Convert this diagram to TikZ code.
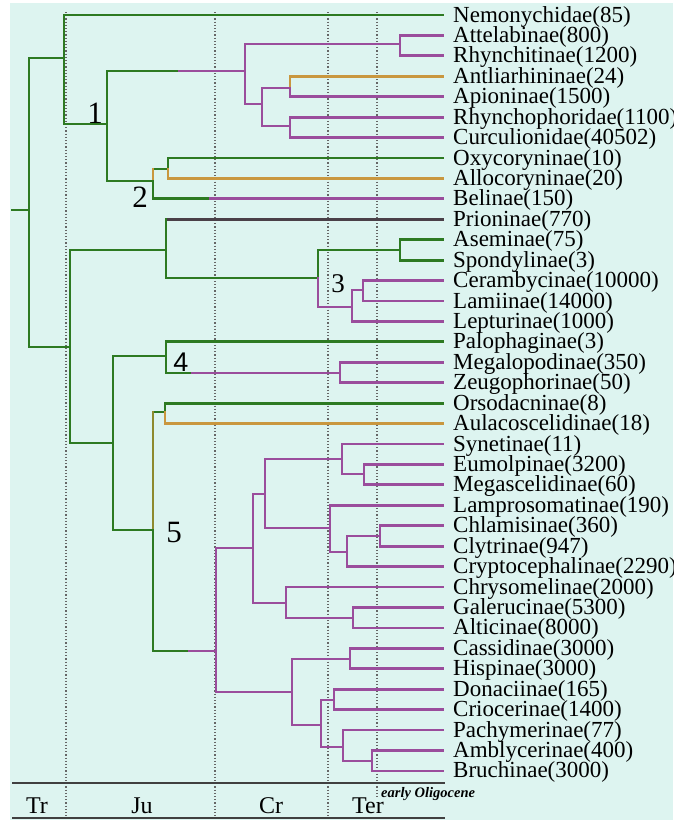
\documentclass[tikz,border=0pt]{standalone}
\usepackage{fontspec}
\setmainfont{Liberation Serif}
\newfontfamily\hvfont{Liberation Sans}
\definecolor{bgc}{HTML}{DDF4F0}
\definecolor{grn}{HTML}{2D7A22}
\definecolor{pur}{HTML}{9A4D9C}
\definecolor{org}{HTML}{C9973F}
\definecolor{olv}{HTML}{8E8A2E}
\definecolor{dkc}{HTML}{4A4048}
\definecolor{gridc}{HTML}{666666}
\definecolor{axc}{HTML}{404040}
\tikzset{
  br/.style={line width=2.8pt, line cap=rect, line join=miter},
  grnl/.style={br, draw=grn},
  purl/.style={br, draw=pur},
  orgl/.style={br, draw=org},
  olvl/.style={br, draw=olv},
  dkl/.style={br, draw=dkc},
  lbl/.style={anchor=base west, inner sep=0pt, text height=13pt, text depth=3pt,
              font=\fontsize{23}{22}\selectfont},
  num/.style={inner sep=0pt, font=\fontsize{31}{31}\selectfont},
  era/.style={anchor=base, inner sep=0pt, font=\fontsize{24}{24}\selectfont},
  gridl/.style={draw=gridc, line width=1.3pt, dash pattern=on 1.2pt off 2pt},
  axl/.style={draw=axc, line width=1.6pt},
}
\begin{document}
\begin{tikzpicture}[x=1pt,y=-1pt]
\useasboundingbox (0,0) rectangle (673,820);
\fill[white] (0,0) rectangle (673,820);
\fill[bgc] (10,3) rectangle (673,820);

% time grid
\coordinate (g1t) at (66,12);  \coordinate (g1b) at (66,818);
\coordinate (g2t) at (215,12); \coordinate (g2b) at (215,818);
\coordinate (g3t) at (328,12); \coordinate (g3b) at (328,818);
\coordinate (g4t) at (377,12); \coordinate (g4b) at (377,797);
\draw[gridl] (g1t) -- (g1b);
\draw[gridl] (g2t) -- (g2b);
\draw[gridl] (g3t) -- (g3b);
\draw[gridl] (g4t) -- (g4b);

% leaves
\foreach \i in {1,...,38} {
  \coordinate (L\i) at (443,{15+(\i-1)*20.43});
}

% ---------- upper clade ----------
\coordinate (R0) at (12,210);
\coordinate (R) at (29,210);
\coordinate (A) at (64,58);
\coordinate (B) at (70,347);
\draw[grnl] (R0) -- (R);
\draw[grnl] (A) -| (R);
\draw[grnl] (B) -| (R);

\coordinate (N1) at (107,124);
\draw[grnl] (L1) -| (A);
\draw[grnl] (N1) -| (A);

\coordinate (N1a) at (245,71);
\coordinate (N2) at (153,181);
\coordinate (m1) at (177,71);
\draw[purl] (N1a) -- (m1);
\draw[grnl] (m1) -| (N1);
\draw[grnl] (N2) -| (N1);

\coordinate (Att) at (400,44);
\coordinate (Ap) at (262,104);
\draw[purl] (Att) -| (N1a);
\draw[purl] (Ap) -| (N1a);
\draw[purl] (L2) -| (Att);
\draw[purl] (L3) -| (Att);

\coordinate (Ap1) at (290,88);
\coordinate (Ap2) at (290,126);
\draw[purl] (Ap1) -| (Ap);
\draw[purl] (Ap2) -| (Ap);
\draw[orgl] (L4) -| (Ap1);
\draw[purl] (L5) -| (Ap1);
\draw[purl] (L6) -| (Ap2);
\draw[purl] (L7) -| (Ap2);

\coordinate (Ox) at (168,169);
\draw[grnl] (Ox) -- (N2 |- Ox);
\draw[orgl] (N2 |- Ox) -- (N2);
\draw[grnl] (L8) -| (Ox);
\draw[orgl] (L9) -| (Ox);
\path (L10) ++(-235,0) coordinate (m2);
\draw[purl] (L10) -- (m2);
\draw[grnl] (m2) -| (N2);

% ---------- lower clade ----------
\coordinate (C) at (166,250);
\coordinate (D) at (113,443);
\draw[grnl] (C) -| (B);
\draw[grnl] (D) -| (B);

\coordinate (C3) at (318,278);
\draw[dkl] (L11) -- (C |- L11);
\draw[grnl] (C |- L11) -- (C);
\draw[grnl] (C3) -| (C);

\coordinate (As) at (400,250);
\coordinate (Ce) at (352,307);
\draw[grnl] (As) -| (C3);
\draw[purl] (Ce) -| (C3);
\draw[grnl] (L12) -| (As);
\draw[grnl] (L13) -| (As);

\coordinate (Ce1) at (363,290);
\draw[purl] (Ce1) -| (Ce);
\draw[purl] (L16) -| (Ce);
\draw[purl] (L14) -| (Ce1);
\draw[purl] (L15) -| (Ce1);

\coordinate (E4) at (166,356);
\coordinate (E5) at (153,530);
\draw[grnl] (E4) -| (D);
\draw[grnl] (E5) -| (D);

\coordinate (Mz) at (340,373);
\draw[grnl] (L17) -| (E4);
\path (Mz) ++(-150,0) coordinate (m3);
\draw[purl] (Mz) -- (m3);
\draw[grnl] (m3) -| (E4);
\draw[purl] (L18) -| (Mz);
\draw[purl] (L19) -| (Mz);

\coordinate (Or) at (165,412);
\coordinate (F) at (216,651);
\draw[grnl] (Or) -- (E5 |- Or);
\draw[olvl] (E5 |- Or) -- (E5);
\draw[grnl] (L20) -| (Or);
\draw[orgl] (L21) -| (Or);
\path (F) ++(-29,0) coordinate (m4);
\draw[purl] (F) -- (m4);
\draw[grnl] (m4) -| (E5);

\coordinate (G) at (253,548);
\coordinate (H) at (292,692);
\draw[purl] (G) -| (F);
\draw[purl] (H) -| (F);

\coordinate (G1) at (265,494);
\coordinate (G2) at (286,603);
\draw[purl] (G1) -| (G);
\draw[purl] (G2) -| (G);

\coordinate (Sy) at (342,459);
\coordinate (La) at (330,528);
\draw[purl] (Sy) -| (G1);
\draw[purl] (La) -| (G1);

\coordinate (Eu) at (364,474);
\draw[purl] (L22) -| (Sy);
\draw[purl] (Eu) -| (Sy);
\draw[purl] (L23) -| (Eu);
\draw[purl] (L24) -| (Eu);

\coordinate (Cl) at (347,552);
\draw[purl] (L25) -| (La);
\draw[purl] (Cl) -| (La);
\coordinate (Ch) at (380,536);
\draw[purl] (Ch) -| (Cl);
\draw[purl] (L28) -| (Cl);
\draw[purl] (L26) -| (Ch);
\draw[purl] (L27) -| (Ch);

\coordinate (Ga) at (353,618);
\draw[purl] (L29) -| (G2);
\draw[purl] (Ga) -| (G2);
\draw[purl] (L30) -| (Ga);
\draw[purl] (L31) -| (Ga);

\coordinate (Ca) at (350,659);
\coordinate (Do) at (321,725);
\draw[purl] (Ca) -| (H);
\draw[purl] (Do) -| (H);
\draw[purl] (L32) -| (Ca);
\draw[purl] (L33) -| (Ca);

\coordinate (Dc) at (334,700);
\coordinate (Pa) at (343,747);
\draw[purl] (Dc) -| (Do);
\draw[purl] (Pa) -| (Do);
\draw[purl] (L34) -| (Dc);
\draw[purl] (L35) -| (Dc);

\coordinate (Am) at (372,761);
\draw[purl] (L36) -| (Pa);
\draw[purl] (Am) -| (Pa);
\draw[purl] (L37) -| (Am);
\draw[purl] (L38) -| (Am);

% clade numbers
\node[num] (n1) at (95,113) {1};
\node[num] (n2) at (140,197) {2};
\node[num, font=\fontsize{27}{27}\selectfont] (n3) at (338,284) {3};
\node[num, font=\fontsize{27}{27}\selectfont\hvfont] (n4) at (181,362) {4};
\node[num] (n5) at (174,532) {5};

% labels
\foreach \i/\t in {1/Nemonychidae(85), 2/Attelabinae(800), 3/Rhynchitinae(1200),
  4/Antliarhininae(24), 5/Apioninae(1500), 6/Rhynchophoridae(1100),
  7/Curculionidae(40502), 8/Oxycoryninae(10), 9/Allocoryninae(20),
  10/Belinae(150), 11/Prioninae(770), 12/Aseminae(75), 13/Spondylinae(3),
  14/Cerambycinae(10000), 15/Lamiinae(14000), 16/Lepturinae(1000),
  17/Palophaginae(3), 18/Megalopodinae(350), 19/Zeugophorinae(50),
  20/Orsodacninae(8), 21/Aulacoscelidinae(18), 22/Synetinae(11),
  23/Eumolpinae(3200), 24/Megascelidinae(60), 25/Lamprosomatinae(190),
  26/Chlamisinae(360), 27/Clytrinae(947), 28/Cryptocephalinae(2290),
  29/Chrysomelinae(2000), 30/Galerucinae(5300), 31/Alticinae(8000),
  32/Cassidinae(3000), 33/Hispinae(3000), 34/Donaciinae(165),
  35/Criocerinae(1400), 36/Pachymerinae(77), 37/Amblycerinae(400),
  38/Bruchinae(3000)} {
  \node[lbl] (T\i) at ([xshift=10pt,yshift=-7pt]L\i) {\t};
}

% time axis
\coordinate (ax1) at (12,783); \coordinate (ax2) at (445,783);
\coordinate (ax3) at (12,818); \coordinate (ax4) at (445,818);
\draw[axl] (ax1) -- (ax2);
\draw[axl] (ax3) -- (ax4);
\node[era] (tr) at (37,813) {Tr};
\node[era] (ju) at (142,813) {Ju};
\node[era] (cr) at (271,813) {Cr};
\node[era] (ter) at (368,813) {Ter};
\node[anchor=base west, inner sep=0pt, font=\fontsize{14.5}{14.5}\selectfont\bfseries\itshape] (eo) at (381,797) {early Oligocene};
\end{tikzpicture}
\end{document}
